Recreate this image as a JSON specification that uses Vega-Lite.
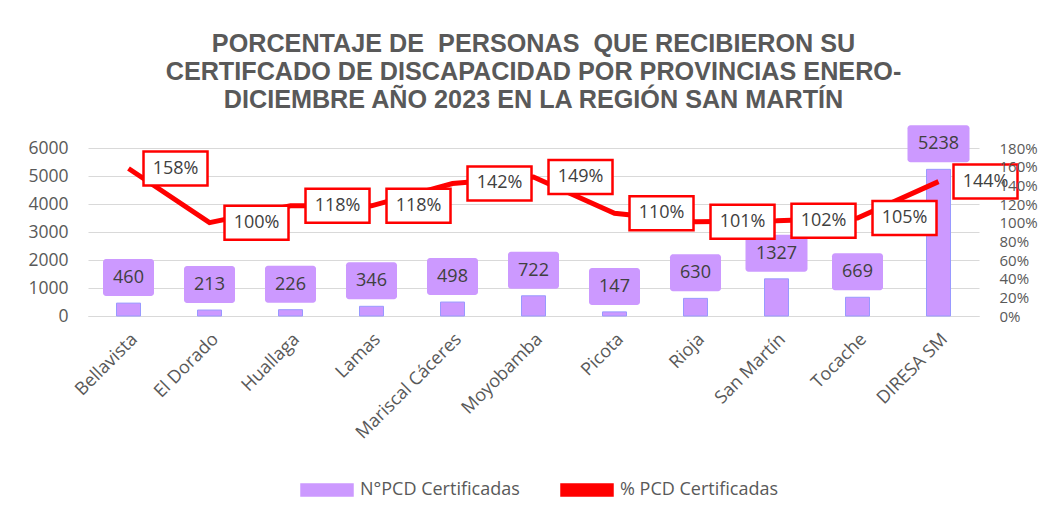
{
  "$schema": "https://vega.github.io/schema/vega-lite/v6.json",
  "width": 891,
  "height": 168,
  "autosize": {"type": "none"},
  "padding": {"left": 88, "top": 148, "right": 79, "bottom": 206},
  "background": "white",
  "config": {"view": {"stroke": null}, "font": "Open Sans", "axis": {"labelOverlap": false}},
  "title": {
    "text": ["PORCENTAJE DE \u00a0PERSONAS \u00a0QUE RECIBIERON SU", "CERTIFCADO DE DISCAPACIDAD POR PROVINCIAS ENERO-", "DICIEMBRE AÑO 2023 EN LA REGIÓN SAN MARTÍN"],
    "font": "Liberation Sans",
    "fontSize": 25.2,
    "fontWeight": "bold",
    "color": "#595959",
    "lineHeight": 28,
    "anchor": "middle",
    "offset": 12
  },
  "data": {
    "values": [
      {"provincia": "Bellavista", "n": 460, "pct": 1.58},
      {"provincia": "El Dorado", "n": 213, "pct": 1.00},
      {"provincia": "Huallaga", "n": 226, "pct": 1.18},
      {"provincia": "Lamas", "n": 346, "pct": 1.18},
      {"provincia": "Mariscal Cáceres", "n": 498, "pct": 1.42},
      {"provincia": "Moyobamba", "n": 722, "pct": 1.49},
      {"provincia": "Picota", "n": 147, "pct": 1.10},
      {"provincia": "Rioja", "n": 630, "pct": 1.01},
      {"provincia": "San Martín", "n": 1327, "pct": 1.02},
      {"provincia": "Tocache", "n": 669, "pct": 1.05},
      {"provincia": "DIRESA SM", "n": 5238, "pct": 1.44}
    ]
  },
  "encoding": {
    "x": {
      "field": "provincia", "type": "nominal", "sort": null,
      "scale": {"paddingInner": 0, "paddingOuter": 0},
      "axis": {"title": null, "labelAngle": -45, "labelFont": "Open Sans", "labelFontSize": 18, "labelColor": "#595959", "ticks": false, "domainColor": "#d9d9d9", "labelPadding": 14}
    }
  },
  "layer": [
    {
      "encoding": {
        "y": {"field": "n", "type": "quantitative", "scale": {"domain": [0, 6000]},
          "axis": {"title": null, "values": [0, 1000, 2000, 3000, 4000, 5000, 6000], "format": "d", "labelOverlap": false, "grid": true, "gridColor": "#d9d9d9", "domain": false, "ticks": false, "labelPadding": 20, "labelFontSize": 17.5, "labelColor": "#595959", "labelFont": "Open Sans"}}
      },
      "layer": [
        {
          "mark": {"type": "bar", "width": 24, "stroke": "#9999FF", "strokeWidth": 1},
          "encoding": {
            "color": {
              "datum": "N°PCD Certificadas",
              "scale": {"domain": ["N°PCD Certificadas", "% PCD Certificadas"], "range": ["#CC99FF", "#FF0000"]},
              "legend": {
                "orient": "none", "legendX": 212, "legendY": 315, "direction": "horizontal", "title": null,
                "labelFont": "Open Sans", "labelFontSize": 18, "labelColor": "#595959",
                "symbolSize": 2704, "symbolType": "M-1,-0.23L1,-0.23L1,0.23L-1,0.23Z",
                "columnPadding": 38, "labelOffset": 6,
                "encode": {"symbols": {"update": {
                  "shape": {"signal": "datum.value === '% PCD Certificadas' ? 'M-1,-0.115L1,-0.115L1,0.115L-1,0.115Z' : 'M-1,-0.23L1,-0.23L1,0.23L-1,0.23Z'"},
                  "fill": {"signal": "datum.value === '% PCD Certificadas' ? '#FF0000' : '#CC99FF'"},
                  "stroke": {"signal": "datum.value === '% PCD Certificadas' ? '#FF0000' : '#9999FF'"},
                  "strokeWidth": {"value": 1},
                  "opacity": {"value": 1}
                }}}
              }
            }
          }
        },
        {
          "mark": {"type": "bar", "color": "#CC99FF", "cornerRadius": 3, "yOffset": -7, "y2Offset": -44},
          "encoding": {
            "y2": {"field": "n"},
            "size": {"condition": {"test": "datum.n >= 1000", "value": 62}, "value": 51}
          }
        },
        {
          "mark": {"type": "text", "dy": -25, "fontSize": 18, "font": "Open Sans", "color": "#404040", "baseline": "middle", "align": "center"},
          "encoding": {
            "text": {"field": "n", "type": "quantitative", "format": "d"}
          }
        }
      ]
    },
    {
      "encoding": {
        "y": {"field": "pct", "type": "quantitative", "scale": {"domain": [0, 1.8]},
          "axis": {"orient": "right", "title": null, "values": [0, 0.2, 0.4, 0.6, 0.8, 1.0, 1.2, 1.4, 1.6, 1.8], "format": ".0%", "labelOverlap": false, "grid": false, "domain": false, "ticks": false, "labelPadding": 20, "labelFontSize": 15, "labelColor": "#595959", "labelFont": "Open Sans", "zindex": 1}}
      },
      "layer": [
        {
          "mark": {"type": "line", "strokeWidth": 5},
          "encoding": {
            "color": {"datum": "% PCD Certificadas"}
          }
        },
        {
          "mark": {"type": "point", "shape": "M0.469,-0.531L2.469,-0.531L2.469,0.531L0.469,0.531Z", "size": 4096, "filled": true, "fill": "white", "stroke": "#FF0000", "strokeWidth": 2.5, "opacity": 1},
          "encoding": {}
        },
        {
          "mark": {"type": "text", "dx": 47, "fontSize": 18, "font": "Open Sans", "color": "#404040", "baseline": "middle", "align": "center"},
          "encoding": {
            "text": {"field": "pct", "type": "quantitative", "format": ".0%"}
          }
        }
      ]
    }
  ],
  "resolve": {"scale": {"y": "independent"}}
}
